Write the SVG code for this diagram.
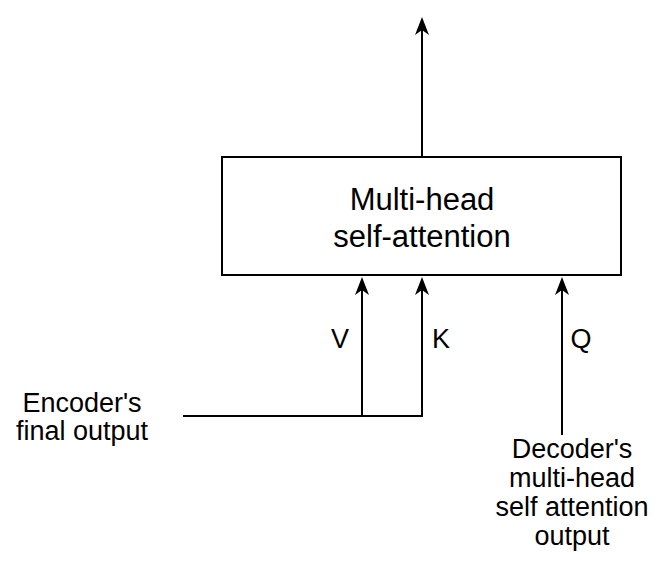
<svg xmlns="http://www.w3.org/2000/svg" width="667" height="567" viewBox="0 0 667 567">
<style>
text{font-family:"Liberation Sans",Arial,sans-serif;fill:#000;text-anchor:middle}
.big{font-size:31px}
.lbl{font-size:27px}
.ln{stroke:#000;stroke-width:2;fill:none}
.head{fill:#000}
</style>
<defs>
<path id="ah" class="head" d="M0 0 L7 18 L0 13 L-7 18 Z"/>
</defs>
<rect width="667" height="567" fill="#fff"/>
<g id="connectors">
<line class="ln" x1="422" y1="157" x2="422" y2="28"/>
<path class="ln" d="M183 416 H422 V288"/>
<line class="ln" x1="362" y1="416" x2="362" y2="288"/>
<line class="ln" x1="562" y1="435" x2="562" y2="288"/>
<use href="#ah" x="422" y="17"/>
<use href="#ah" x="362" y="277"/>
<use href="#ah" x="422" y="277"/>
<use href="#ah" x="562" y="277"/>
</g>
<g id="attention">
<rect x="222" y="157" width="399" height="118" fill="#fff" stroke="#000" stroke-width="2"/>
<text class="big" x="422" y="210">Multi-head</text>
<text class="big" x="422" y="247">self-attention</text>
</g>
<g id="labels">
<text class="lbl" x="340" y="348">V</text>
<text class="lbl" x="441" y="348">K</text>
<text class="lbl" x="581" y="348">Q</text>
</g>
<g id="encoder">
<text class="lbl" x="82" y="412">Encoder's</text>
<text class="lbl" x="82" y="440">final output</text>
</g>
<g id="decoder">
<text class="lbl" x="572" y="458">Decoder's</text>
<text class="lbl" x="572" y="487">multi-head</text>
<text class="lbl" x="572" y="516">self attention</text>
<text class="lbl" x="572" y="545">output</text>
</g>
</svg>
